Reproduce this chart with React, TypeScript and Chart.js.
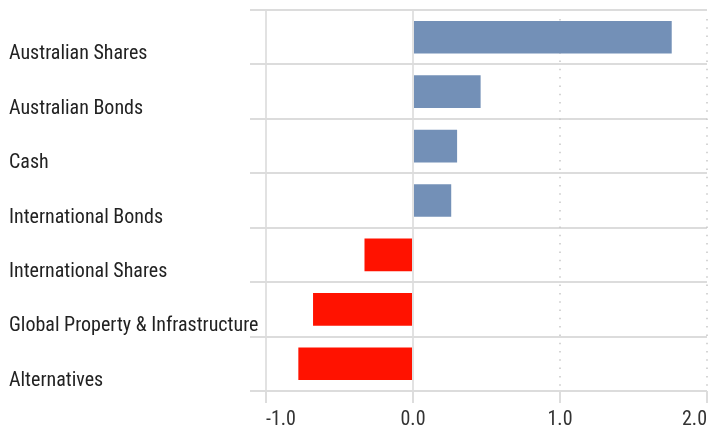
import React, { useEffect, useRef } from "react";
import { Chart, registerables } from "chart.js";

Chart.register(...registerables);

const categories = [
  "Australian Shares",
  "Australian Bonds",
  "Cash",
  "International Bonds",
  "International Shares",
  "Global Property & Infrastructure",
  "Alternatives",
];
const values = [1.76, 0.46, 0.3, 0.26, -0.33, -0.68, -0.78];
const xTicks = [-1, 0, 1, 2];
const dottedAt = [1, 2];

const FONT = "'Roboto Condensed', 'Liberation Sans Narrow', 'DejaVu Sans Condensed', 'Arial Narrow', Roboto, sans-serif";

const dottedPlugin = {
  id: "dottedLines",
  beforeDatasetsDraw(chart: any) {
    const { ctx, chartArea, scales } = chart;
    const x = scales.x;
    ctx.save();
    ctx.strokeStyle = "#c8c8c8";
    ctx.lineWidth = 1.5;
    ctx.setLineDash([1.5, 6.8]);
    for (const v of dottedAt) {
      const px = Math.round(x.getPixelForValue(v));
      ctx.beginPath();
      ctx.moveTo(px, chartArea.top + 9);
      ctx.lineTo(px, chartArea.bottom);
      ctx.stroke();
    }
    ctx.restore();
  },
};

export default function App() {
  const ref = useRef<HTMLCanvasElement | null>(null);
  useEffect(() => {
    document.body.style.margin = "0";
    const canvas = ref.current!;
    const chart = new Chart(canvas, {
      type: "bar",
      data: {
        labels: categories,
        datasets: [
          {
            data: values,
            backgroundColor: values.map((v) => (v >= 0 ? "#7390b7" : "#ff1200")),
            borderWidth: 0,
            categoryPercentage: 1,
            barPercentage: 0.6,
          },
        ],
      },
      plugins: [dottedPlugin],
      options: {
        indexAxis: "y",
        animation: false,
        responsive: false,
        maintainAspectRatio: false,
        layout: { padding: { left: 9, top: 10, right: 1, bottom: 0 } },
        plugins: { legend: { display: false }, tooltip: { enabled: false } },
        scales: {
          x: {
            type: "linear",
            min: -1,
            max: 2,
            afterBuildTicks: (s: any) => {
              s.ticks = xTicks.map((v) => ({ value: v }));
            },
            afterFit: (s: any) => {
              s.height = 34;
              s.paddingLeft = 0;
              s.paddingRight = 0;
            },
            border: { display: false },
            grid: {
              color: (c: any) => (c.tick && c.tick.value <= 0 ? "#e2e2e2" : "rgba(0,0,0,0)"),
              lineWidth: 2,
              tickColor: "#dddddd",
              tickWidth: 2,
              tickLength: 12,
            },
            ticks: {
              align: "inner",
              padding: 5,
              color: "#333",
              font: { family: FONT, size: 20 },
              callback: (v: any) => Number(v).toFixed(1),
            },
          },
          y: {
            afterFit: (s: any) => {
              s.width = 257;
              s.paddingTop = 0;
              s.paddingBottom = 0;
            },
            border: { display: false },
            grid: {
              color: "#dcdcdc",
              lineWidth: 2,
              tickColor: "#dcdcdc",
              tickWidth: 2,
              tickLength: 16,
            },
            ticks: {
              crossAlign: "far",
              labelOffset: 17,
              color: "#222",
              font: { family: FONT, size: 20 },
            },
          },
        },
      },
    } as any);
    return () => chart.destroy();
  }, []);
  return (
    <div style={{ width: 708, height: 425 }}>
      <canvas ref={ref} width={708} height={425} style={{ display: "block" }} />
    </div>
  );
}
